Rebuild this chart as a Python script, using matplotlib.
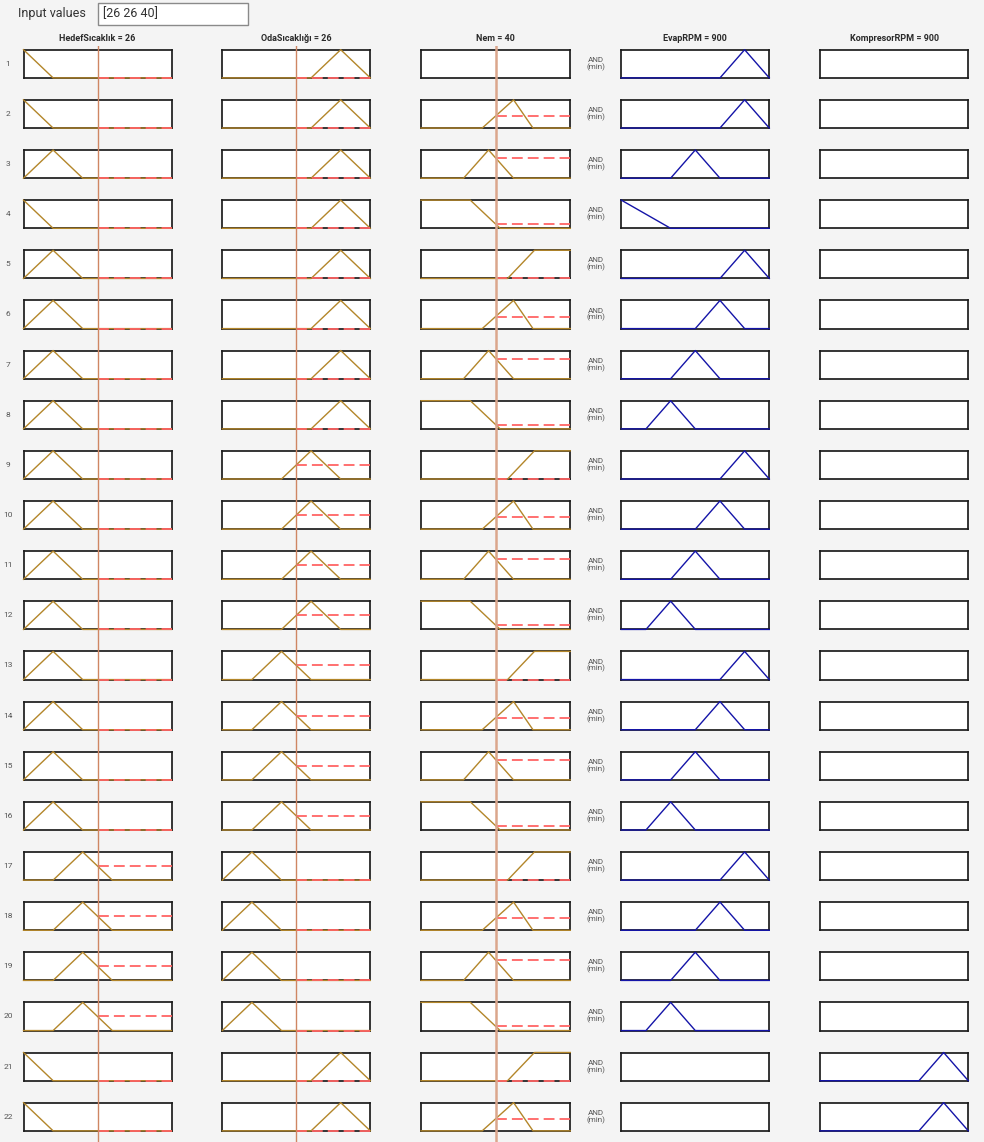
import numpy as np
from matplotlib import pyplot as plt
from matplotlib.patches import Rectangle

W, H = 984, 1142

# ================================================
# DATA
# ================================================

input_values = [26, 26, 40]
output_values = [900, 900]

input_names = ['HedefSıcaklık', 'OdaSıcaklığı', 'Nem']
output_names = ['EvapRPM', 'KompresorRPM']

hedef_range = [16, 36]
oda_range = [16, 36]
nem_range = [20, 60]
evap_range = [0, 1800]
komp_range = [0, 1800]

# membership functions as trapezoids [a, b, c, d] (triangle: b == c)
hedef_mfs = [[16, 16, 16, 20], [16, 20, 20, 24], [20, 24, 24, 28]]
oda_mfs = [[16, 20, 20, 24], [20, 24, 24, 28], [24, 28, 28, 32], [28, 32, 32, 36]]
nem_mfs = [[20, 20, 33.2, 41.2], [31.4, 38.1, 38.1, 44.8], [36.4, 44.8, 44.8, 50], [43.2, 50.4, 60, 60]]
evap_mfs = [[0, 0, 0, 600], [300, 600, 600, 900], [600, 900, 900, 1200],
            [900, 1200, 1200, 1500], [1200, 1500, 1500, 1800]]
komp_mfs = [[0, 0, 0, 600], [300, 600, 600, 900], [600, 900, 900, 1200],
            [900, 1200, 1200, 1500], [1200, 1500, 1500, 1800]]

# rule table, -1 = not used in the rule
rule_hedef = [0, 0, 1, 0, 1, 1, 1, 1, 1, 1, 1, 1, 1, 1, 1, 1, 2, 2, 2, 2, 0, 0]
rule_oda = [3, 3, 3, 3, 3, 3, 3, 3, 2, 2, 2, 2, 1, 1, 1, 1, 0, 0, 0, 0, 3, 3]
rule_nem = [-1, 2, 1, 0, 3, 2, 1, 0, 3, 2, 1, 0, 3, 2, 1, 0, 3, 2, 1, 0, 3, 2]
rule_evap = [4, 4, 2, 0, 4, 3, 2, 1, 4, 3, 2, 1, 4, 3, 2, 1, 4, 3, 2, 1, -1, -1]
rule_komp = [-1, -1, -1, -1, -1, -1, -1, -1, -1, -1, -1, -1, -1, -1, -1, -1, -1, -1, -1, -1, 4, 4]

# ================================================
# STYLE
# ================================================

BG = '#f4f4f4'
MF_COLOR = '#b3862a'
OUT_COLOR = '#1414a8'
DEG_COLOR = '#ff6464'
LINE_COLORS = ['#cf8663', '#cf8663', '#dba68c']
LINE_WIDTHS = [1.0, 1.0, 1.8]

col_x = [(23.5, 171.5), (222.3, 370.3), (421.0, 570.3), (621.3, 769.3), (820.3, 968.3)]
row_top0 = 49.7
row_pitch = 50.14
box_h = 28.2

plt.rcParams['font.family'] = ['Roboto', 'DejaVu Sans']


def px_axes(fig, x0, y0, x1, y1):
    return fig.add_axes([x0 / W, 1 - y1 / H, (x1 - x0) / W, (y1 - y0) / H])


def mf_val(x, p):
    a, b, c, d = p
    if x < a or x > d:
        return 0.0
    if x < b:
        return (x - a) / (b - a)
    if x <= c:
        return 1.0
    return (d - x) / (d - c)


def mf_curve(p, rng):
    xs = sorted(set([rng[0], rng[1]] + [v for v in p if rng[0] <= v <= rng[1]]))
    return xs, [mf_val(x, p) for x in xs]


def box(ax, rng):
    ax.set_xlim(rng)
    ax.set_ylim(0, 1)
    ax.set_xticks([])
    ax.set_yticks([])
    ax.set_facecolor('white')
    for s in ax.spines.values():
        s.set_color('#1c1c1c')
        s.set_linewidth(1.25)


fig = plt.figure(figsize=(W / 100, H / 100), dpi=100, facecolor=BG)

# input values field
fig.text(18 / W, 1 - 14 / H, 'Input values', fontsize=9, color='#333333', va='center', ha='left')
fig.patches.append(Rectangle((98 / W, 1 - 24.5 / H), 150 / W, 21.5 / H, transform=fig.transFigure,
                             facecolor='white', edgecolor='#8a8a8a', linewidth=1.0))
fig.text(103 / W, 1 - 14 / H, '[' + ' '.join(str(v) for v in input_values) + ']',
         fontsize=9, color='#333333', va='center', ha='left')

# column titles
titles = ['%s = %g' % (n, v) for n, v in zip(input_names, input_values)] + \
         ['%s = %g' % (n, v) for n, v in zip(output_names, output_values)]
for (x0, x1), t in zip(col_x, titles):
    fig.text((x0 + x1) / 2 / W, 1 - 38.5 / H, t, fontsize=6.5, fontweight='bold',
             color='#2a2a2a', ha='center', va='center')

in_ranges = [hedef_range, oda_range, nem_range]
in_mfs = [hedef_mfs, oda_mfs, nem_mfs]
in_rules = [rule_hedef, rule_oda, rule_nem]
out_ranges = [evap_range, komp_range]
out_mfs = [evap_mfs, komp_mfs]
out_rules = [rule_evap, rule_komp]

n_rules = len(rule_hedef)
for i in range(n_rules):
    top = row_top0 + i * row_pitch
    bot = top + box_h
    fig.text(8 / W, 1 - (top + box_h / 2) / H, str(i + 1), fontsize=6, color='#555555',
             ha='center', va='center')
    fig.text(596 / W, 1 - (top + box_h / 2) / H, 'AND\n(min)', fontsize=5.8, color='#555555',
             ha='center', va='center', linespacing=1.05)

    for j in range(3):
        x0, x1 = col_x[j]
        ax = px_axes(fig, x0, top, x1, bot)
        rng = in_ranges[j]
        box(ax, rng)
        k = in_rules[j][i]
        if k < 0:
            continue
        p = in_mfs[j][k]
        xs, ys = mf_curve(p, rng)
        ax.plot(xs, ys, color=MF_COLOR, lw=1.0, clip_on=False, zorder=3)
        deg = mf_val(input_values[j], p)
        ax.plot([input_values[j], rng[1]], [deg, deg], color=DEG_COLOR, lw=1.3,
                dashes=(6, 2.8), clip_on=False, zorder=4)

    for j in range(2):
        x0, x1 = col_x[3 + j]
        ax = px_axes(fig, x0, top, x1, bot)
        rng = out_ranges[j]
        box(ax, rng)
        k = out_rules[j][i]
        if k < 0:
            continue
        xs, ys = mf_curve(out_mfs[j][k], rng)
        ax.plot(xs, ys, color=OUT_COLOR, lw=1.0, clip_on=False, zorder=3)

# vertical lines at the input values
for j in range(3):
    x0, x1 = col_x[j]
    ov = px_axes(fig, x0, 46, x1, H)
    ov.set_xlim(in_ranges[j])
    ov.axis('off')
    ov.axvline(input_values[j], color=LINE_COLORS[j], lw=LINE_WIDTHS[j])

fig.savefig('out.png', dpi=100, facecolor=BG)
